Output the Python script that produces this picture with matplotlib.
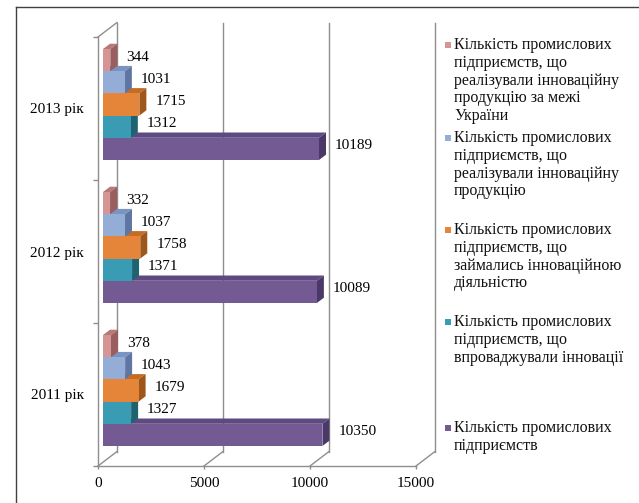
import matplotlib
matplotlib.use('Agg')
import matplotlib.pyplot as plt
from matplotlib.patches import Polygon, Rectangle
from matplotlib.lines import Line2D

plt.rcParams['font.family'] = ['Liberation Serif', 'DejaVu Serif']

# ---------------- data ----------------
categories = ['2011 рік', '2012 рік', '2013 рік']
enterprises = [10350, 10089, 10189]
implemented = [1327, 1371, 1312]
engaged = [1679, 1758, 1715]
sold = [1043, 1037, 1031]
sold_abroad = [378, 332, 344]
x_ticks = [0, 5000, 10000, 15000]

series_values = [enterprises, implemented, engaged, sold, sold_abroad]
series_labels = [
    'Кількість промислових\nпідприємств',
    'Кількість промислових\nпідприємств, що\nвпроваджували інновації',
    'Кількість промислових\nпідприємств, що\nзаймались інноваційною\nдіяльністю',
    'Кількість промислових\nпідприємств, що\nреалізували інноваційну\nпродукцію',
    'Кількість промислових\nпідприємств, що\nреалізували інноваційну\nпродукцію за межі\nУкраїни',
]
front_colors = ['#735A93', '#3A9BB4', '#E5853A', '#93ADD6', '#D69595']
top_colors = ['#5E4A82', '#2C8096', '#C46C24', '#7A93C2', '#B87878']
side_colors = ['#4A3968', '#1F6270', '#9E561B', '#5F76A2', '#9A5E5E']

# ---------------- figure ----------------
W, H = 639, 503
fig = plt.figure(figsize=(W / 100, H / 100), dpi=100)
ax = fig.add_axes([98 / W, (H - 466) / H, 318 / W, 429 / H])
ax.set_xlim(0, 15000)
ax.set_ylim(0, 3)

inv = ax.transData.inverted()


def px(dx, dy):
    p0 = inv.transform((0, 0))
    p1 = inv.transform((dx, dy))
    return p1[0] - p0[0], p1[1] - p0[1]


grid_c = '#8E8E8E'
bx, by = px(19, 14.5)   # back wall offset
fx, fy = px(5, 4)       # bar front plane offset
dx, dy = px(7, 5.3)     # bar depth

# back wall gridlines and floor slants
for t in x_ticks:
    ax.plot([t + bx, t + bx], [by, 3 + by], color=grid_c, lw=1, zorder=1, clip_on=False)
    ax.plot([t, t + bx], [0, by], color=grid_c, lw=1, zorder=1, clip_on=False)
# left wall top edge
ax.plot([0, bx], [3, 3 + by], color=grid_c, lw=1, zorder=1, clip_on=False)

# bars
n = len(series_values)
gap = 0.112
h = (1 - 2 * gap) / n
for j, vals in enumerate(series_values):
    ys = [c + gap + j * h + fy for c in range(len(categories))]
    z = 3 + j * 3
    for y0, v in zip(ys, vals):
        top = Polygon([(fx, y0 + h), (fx + v, y0 + h), (fx + v + dx, y0 + h + dy), (fx + dx, y0 + h + dy)],
                      closed=True, facecolor=top_colors[j], edgecolor='none', zorder=z, clip_on=False)
        side = Polygon([(fx + v, y0), (fx + v + dx, y0 + dy), (fx + v + dx, y0 + h + dy), (fx + v, y0 + h)],
                       closed=True, facecolor=side_colors[j], edgecolor='none', zorder=z + 1, clip_on=False)
        ax.add_patch(top)
        ax.add_patch(side)
        ax.annotate(str(v), xy=(fx + v, y0 + h / 2), xytext=(16 * 0.72, 3 * 0.72),
                    textcoords='offset points', ha='left', va='center', fontsize=11,
                    color='black', zorder=30)
    ax.barh(ys, vals, height=h, left=fx, align='edge', color=front_colors[j],
            edgecolor='none', zorder=z + 2, clip_on=False)

# axes styling
for s in ['top', 'right']:
    ax.spines[s].set_visible(False)
for s in ['left', 'bottom']:
    ax.spines[s].set_color(grid_c)
    ax.spines[s].set_linewidth(1)
ax.set_xticks(x_ticks)
ax.set_xticklabels([str(t) for t in x_ticks], fontsize=11)
ax.set_yticks([0.5, 1.5, 2.5])
ax.set_yticklabels(categories, fontsize=11)
ax.set_yticks([0, 1, 2, 3], minor=True)
ax.tick_params(axis='y', which='major', length=0, pad=10)
ax.tick_params(axis='y', which='minor', length=3.6, color=grid_c, width=1)
ax.tick_params(axis='x', which='major', length=2.5, color=grid_c, width=1, pad=5.5)
ax.set_facecolor('none')

# legend (manual, Excel-like placement)
legend_first_line = [428, 322, 230, 138, 45]
for j in range(n):
    yc = legend_first_line[j]
    fig.add_artist(Rectangle((445 / W, (H - yc - 3) / H), 6 / W, 6 / H, transform=fig.transFigure,
                             facecolor=front_colors[j], edgecolor='none'))
    fig.text(454 / W, (H - yc + 8) / H, series_labels[j], fontsize=11.5, ha='left', va='top',
             linespacing=1.15, color='#111111')

# outer border (cut by the image edges)
fig.add_artist(Line2D([16 / W, 16 / W], [0, 1 - 7 / H], transform=fig.transFigure, color='#404040', lw=1))
fig.add_artist(Line2D([16 / W, 1], [1 - 7 / H, 1 - 7 / H], transform=fig.transFigure, color='#404040', lw=1))

fig.savefig('out.png', dpi=100)
